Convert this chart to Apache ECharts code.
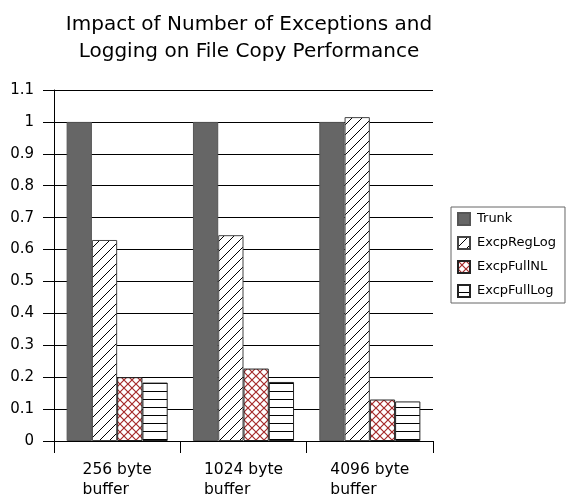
<!DOCTYPE html>
<html>
<head>
<meta charset="utf-8">
<script src="https://cdn.jsdelivr.net/npm/echarts@6/dist/echarts.min.js"></script>
<style>
  html, body { margin: 0; padding: 0; background: #fff; }
  #chart { width: 571px; height: 496px; }
</style>
</head>
<body>
<div id="chart"></div>
<script>
// Buffer sizes on the category axis
const categories = ['256 byte\nbuffer', '1024 byte\nbuffer', '4096 byte\nbuffer'];

// Normalised copy time per configuration
const trunk       = [1, 1, 1];
const excpRegLog  = [0.63, 0.645, 1.015];
const excpFullNL  = [0.20, 0.227, 0.13];
const excpFullLog = [0.183, 0.185, 0.124];

const seriesNames = ['Trunk', 'ExcpRegLog', 'ExcpFullNL', 'ExcpFullLog'];

// Hatch fills drawn on small repeating tiles
function tile(size, draw) {
  const c = document.createElement('canvas');
  c.width = size; c.height = size;
  const ctx = c.getContext('2d');
  ctx.fillStyle = '#fff';
  ctx.fillRect(0, 0, size, size);
  draw(ctx, size);
  return { image: c, repeat: 'repeat' };
}

const diagFill = tile(10, (ctx, s) => {
  ctx.strokeStyle = '#000';
  ctx.lineWidth = 1;
  ctx.beginPath();
  ctx.moveTo(0, s); ctx.lineTo(s, 0);
  ctx.moveTo(-1, 1); ctx.lineTo(1, -1);
  ctx.moveTo(s - 1, s + 1); ctx.lineTo(s + 1, s - 1);
  ctx.stroke();
});

const crossFill = tile(8, (ctx, s) => {
  ctx.strokeStyle = '#a52a2a';
  ctx.lineWidth = 1.2;
  ctx.beginPath();
  ctx.moveTo(0, s); ctx.lineTo(s, 0);
  ctx.moveTo(0, 0); ctx.lineTo(s, s);
  ctx.stroke();
});

const horizFill = tile(8, (ctx, s) => {
  ctx.fillStyle = '#000';
  ctx.fillRect(0, s - 1, s, 1);
});

const chart = echarts.init(document.getElementById('chart'), null, { renderer: 'canvas' });

const font = 'DejaVu Sans';

function barSeries(name, data, color, border) {
  return {
    name: name,
    type: 'bar',
    data: data,
    barGap: '0%',
    barCategoryGap: '20%',
    itemStyle: { color: color, borderColor: border, borderWidth: 1 },
    emphasis: { disabled: true },
    animation: false
  };
}

chart.setOption({
  backgroundColor: '#fff',
  textStyle: { fontFamily: font },
  title: {
    text: 'Impact of Number of Exceptions and\nLogging on File Copy Performance',
    left: 244,
    top: 6,
    textAlign: 'center',
    textStyle: { fontFamily: font, fontSize: 20, fontWeight: 'normal', color: '#000', lineHeight: 27 }
  },
  legend: {
    orient: 'vertical',
    left: 451,
    top: 207,
    padding: [5, 9, 5, 6],
    itemWidth: 12,
    itemHeight: 12,
    itemGap: 10,
    borderColor: '#666',
    borderWidth: 1,
    icon: 'rect',
    data: seriesNames,
    textStyle: { fontFamily: font, fontSize: 13, lineHeight: 12, color: '#000', padding: [0, 0, 0, 2] }
  },
  grid: { left: 54, right: 138, top: 90, bottom: 55, outerBoundsMode: 'none', containLabel: false },
  xAxis: {
    type: 'category',
    data: categories,
    axisLine: { lineStyle: { color: '#000', width: 1 } },
    axisTick: { show: true, length: 12, alignWithLabel: false, lineStyle: { color: '#000' } },
    axisLabel: {
      interval: 0,
      hideOverlap: false,
      color: '#000', fontSize: 15.5, fontFamily: font, margin: 19, lineHeight: 20,
      formatter: v => v.split('\n').map(s => '{a|' + s + '}').join('\n'),
      rich: { a: { align: 'left', fontSize: 15.5, fontFamily: font, lineHeight: 20, color: '#000' } }
    }
  },
  yAxis: {
    type: 'value',
    min: 0,
    max: 1.1,
    interval: 0.1,
    axisLine: { show: true, lineStyle: { color: '#000', width: 1 } },
    axisTick: { show: true, length: 11, lineStyle: { color: '#000' } },
    splitLine: { show: true, lineStyle: { color: '#000', width: 1 } },
    axisLabel: {
      color: '#000', fontSize: 15, fontFamily: font, margin: 20,
      formatter: v => String(+v.toFixed(1))
    }
  },
  series: [
    barSeries('Trunk', trunk, '#666666', '#555'),
    barSeries('ExcpRegLog', excpRegLog, diagFill, '#444'),
    barSeries('ExcpFullNL', excpFullNL, crossFill, '#222'),
    barSeries('ExcpFullLog', excpFullLog, horizFill, '#222')
  ]
});
</script>
</body>
</html>
